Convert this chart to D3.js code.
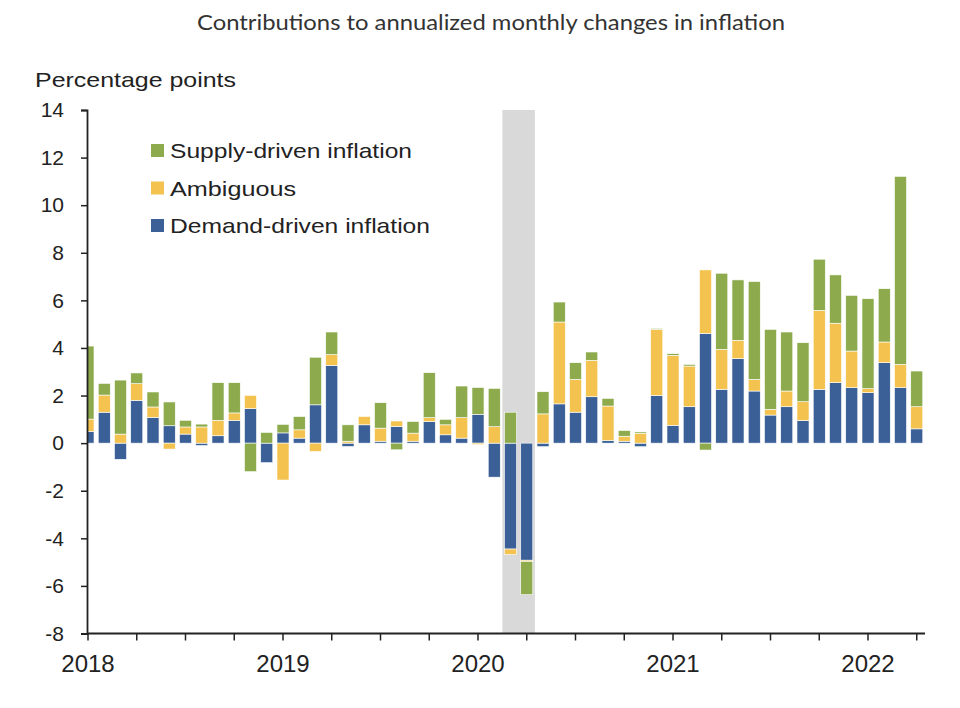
<!DOCTYPE html>
<html>
<head>
<meta charset="utf-8">
<script src="https://cdn.jsdelivr.net/npm/d3@7"></script>
<style>
  html, body { margin: 0; padding: 0; background: #fff; }
  svg { display: block; }
  text { font-family: "Liberation Sans", Arial, sans-serif; }
</style>
</head>
<body>
<svg id="chart" width="960" height="708"></svg>
<script>
// ---------------- DATA ----------------
const months = [
  "2018-01","2018-02","2018-03","2018-04","2018-05","2018-06","2018-07","2018-08","2018-09","2018-10","2018-11","2018-12",
  "2019-01","2019-02","2019-03","2019-04","2019-05","2019-06","2019-07","2019-08","2019-09","2019-10","2019-11","2019-12",
  "2020-01","2020-02","2020-03","2020-04","2020-05","2020-06","2020-07","2020-08","2020-09","2020-10","2020-11","2020-12",
  "2021-01","2021-02","2021-03","2021-04","2021-05","2021-06","2021-07","2021-08","2021-09","2021-10","2021-11","2021-12",
  "2022-01","2022-02","2022-03","2022-04"
];
const demandDriven = [
  0.49, 1.30, -0.68, 1.80, 1.08, 0.73, 0.38, -0.10, 0.31, 0.96, 1.45, -0.82,
  0.43, 0.21, 1.61, 3.27, -0.14, 0.77, 0.08, 0.70, 0.08, 0.91, 0.35, 0.21,
  1.21, -1.43, -4.45, -4.92, -0.15, 1.65, 1.30, 1.95, 0.11, 0.08, -0.15, 2.00,
  0.75, 1.53, 4.61, 2.26, 3.55, 2.19, 1.18, 1.53, 0.95, 2.26, 2.54, 2.33,
  2.12, 3.38, 2.33, 0.60
];
const ambiguous = [
  0.52, 0.72, 0.38, 0.70, 0.44, -0.25, 0.30, 0.68, 0.65, 0.31, 0.56, 0.00,
  -1.55, 0.35, -0.35, 0.45, 0.08, 0.35, 0.55, 0.23, 0.34, 0.16, 0.42, 0.86,
  -0.06, 0.69, -0.23, -0.05, 1.23, 3.44, 1.38, 1.53, 1.45, 0.21, 0.41, 2.78,
  2.94, 1.71, 2.67, 1.68, 0.77, 0.49, 0.24, 0.66, 0.79, 3.32, 2.50, 1.54,
  0.17, 0.87, 0.98, 0.93
];
const supplyDriven = [
  3.07, 0.49, 2.27, 0.45, 0.63, 1.00, 0.28, 0.12, 1.58, 1.27, -1.20, 0.45,
  0.36, 0.56, 2.00, 0.95, 0.69, 0.00, 1.07, -0.28, 0.49, 1.89, 0.23, 1.33,
  1.13, 1.61, 1.30, -1.40, 0.93, 0.84, 0.70, 0.35, 0.32, 0.24, 0.06, 0.04,
  0.07, 0.07, -0.29, 3.20, 2.54, 4.11, 3.36, 2.48, 2.48, 2.15, 2.03, 2.34,
  3.78, 2.24, 7.90, 1.50
];
const seriesNames = ["Demand-driven inflation", "Ambiguous", "Supply-driven inflation"];
const legendOrder = ["Supply-driven inflation", "Ambiguous", "Demand-driven inflation"];
const recessionMonths = ["2020-03", "2020-04"];
const yTicks = [-8, -6, -4, -2, 0, 2, 4, 6, 8, 10, 12, 14];
const yearLabels = ["2018", "2019", "2020", "2021", "2022"];
const titleText = "Contributions to annualized monthly changes in inflation";
const yAxisTitle = "Percentage points";

// ---------------- SETUP ----------------
const colors = {
  "Demand-driven inflation": "#3a6097",
  "Ambiguous": "#f4c34f",
  "Supply-driven inflation": "#8dab4d"
};

const svg = d3.select("#chart");
const axisX = 87;
const step = 16.25;
const firstCenter = 88;

const x = d3.scaleBand()
  .domain(months)
  .range([firstCenter - step / 2, firstCenter - step / 2 + step * months.length])
  .paddingInner(0.26)
  .paddingOuter(0.13);

const y = d3.scaleLinear().domain([-8, 14]).range([633.5, 110]);

const table = months.map((m, i) => ({
  month: m,
  "Demand-driven inflation": demandDriven[i],
  "Ambiguous": ambiguous[i],
  "Supply-driven inflation": supplyDriven[i]
}));

const stacked = d3.stack()
  .keys(seriesNames)
  .offset(d3.stackOffsetDiverging)(table);

// clip so the first bar is cut at the y axis
svg.append("defs").append("clipPath").attr("id", "plotClip")
  .append("rect")
  .attr("x", axisX + 1).attr("y", 0)
  .attr("width", 960).attr("height", 708);

// recession shading
const recX0 = x(recessionMonths[0]) + x.bandwidth() / 2 - step / 2;
const recX1 = x(recessionMonths[recessionMonths.length - 1]) + x.bandwidth() / 2 + step / 2;
svg.append("rect")
  .attr("x", recX0)
  .attr("y", y(14))
  .attr("width", recX1 - recX0)
  .attr("height", y(-8) - y(14))
  .attr("fill", "#d9d9d9");

// bars
const gBars = svg.append("g").attr("clip-path", "url(#plotClip)");
gBars.selectAll("g.series")
  .data(stacked)
  .join("g")
  .attr("class", "series")
  .attr("fill", d => colors[d.key])
  .selectAll("rect")
  .data(d => d)
  .join("rect")
  .attr("x", d => x(d.data.month))
  .attr("width", x.bandwidth())
  .attr("y", d => y(Math.max(d[0], d[1])))
  .attr("height", d => Math.abs(y(d[0]) - y(d[1])))
  .attr("stroke", "#ffffff")
  .attr("stroke-width", 0.6);

// y axis
const yAxis = d3.axisLeft(y).tickValues(yTicks).tickSize(6).tickPadding(17).tickFormat(d => String(d));
const gy = svg.append("g").attr("transform", `translate(${axisX},0)`).call(yAxis);
gy.select(".domain").attr("stroke", "#222").attr("stroke-width", 1.8);
gy.selectAll(".tick line").attr("stroke", "#222").attr("stroke-width", 1.5);
gy.selectAll(".tick text")
  .attr("fill", "#222")
  .style("font-size", "21px")
  .style("font-family", "'Liberation Sans', Arial, sans-serif");

// x axis
const quarterMonths = months.filter(m => ["01", "04", "07", "10"].includes(m.slice(5)));
const xAxis = d3.axisBottom(x)
  .tickValues(quarterMonths)
  .tickSize(7)
  .tickPadding(14)
  .tickFormat(m => m.slice(5) === "01" && yearLabels.includes(m.slice(0, 4)) ? m.slice(0, 4) : "");
const gx = svg.append("g").attr("transform", `translate(0,${y(-8)})`).call(xAxis);
gx.select(".domain").remove();
gx.append("line")
  .attr("x1", axisX).attr("x2", 925)
  .attr("y1", 0).attr("y2", 0)
  .attr("stroke", "#222").attr("stroke-width", 1.8);
gx.selectAll(".tick line").attr("stroke", "#222").attr("stroke-width", 1.5);
gx.selectAll(".tick text")
  .attr("fill", "#222")
  .style("font-size", "24px")
  .style("font-family", "'Liberation Sans', Arial, sans-serif");

// title
svg.append("text")
  .attr("x", 491).attr("y", 30)
  .attr("text-anchor", "middle")
  .attr("fill", "#333")
  .attr("textLength", 588)
  .attr("lengthAdjust", "spacingAndGlyphs")
  .style("font-family", "Lato, 'Open Sans', sans-serif")
  .style("font-size", "21px")
  .text(titleText);

// y axis title
svg.append("text")
  .attr("x", 35).attr("y", 87)
  .attr("fill", "#222")
  .attr("textLength", 201)
  .attr("lengthAdjust", "spacingAndGlyphs")
  .style("font-size", "21px")
  .text(yAxisTitle);

// legend
const legendWidths = { "Supply-driven inflation": 242, "Ambiguous": 126, "Demand-driven inflation": 260 };
const legend = svg.append("g");
legendOrder.forEach((name, i) => {
  const baseY = 158 + i * 37.5;
  legend.append("rect")
    .attr("x", 151).attr("y", baseY - 14)
    .attr("width", 13).attr("height", 13)
    .attr("fill", colors[name]);
  legend.append("text")
    .attr("x", 170).attr("y", baseY)
    .attr("fill", "#222")
    .attr("textLength", legendWidths[name])
    .attr("lengthAdjust", "spacingAndGlyphs")
    .style("font-size", "21px")
    .text(name);
});
</script>
</body>
</html>
